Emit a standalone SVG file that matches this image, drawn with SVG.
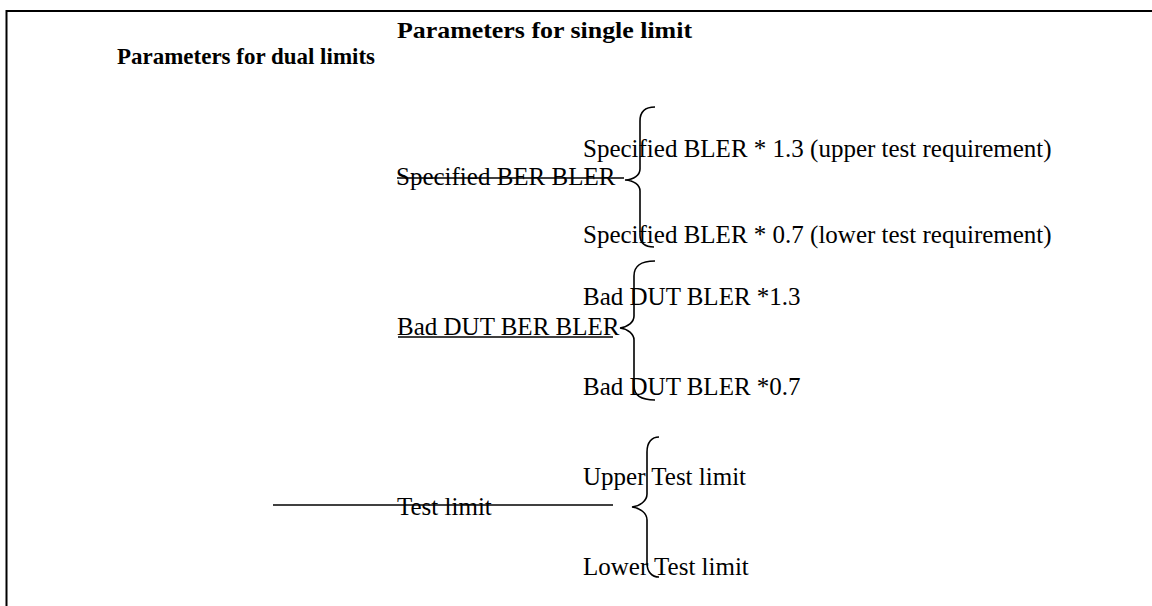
<svg xmlns="http://www.w3.org/2000/svg" width="1152" height="606" viewBox="0 0 1152 606">
<style>
.t{font-family:"Liberation Serif","Times New Roman",serif;font-size:25px;fill:#000}
.b{font-family:"Liberation Serif","Times New Roman",serif;font-size:24px;font-weight:bold;fill:#000}
.ln{stroke:#000;stroke-width:1.6;fill:none}
.br{stroke:#000;stroke-width:1.6;fill:none}
</style>
<rect width="1152" height="606" fill="#fff"/>
<path d="M6.5,606 V11 H1152" stroke="#000" stroke-width="2" fill="none"/>
<g id="title-single"><text class="b" x="397" y="38" textLength="295" lengthAdjust="spacingAndGlyphs">Parameters for single limit</text></g>
<g id="title-dual"><text class="b" x="117" y="64" textLength="258" lengthAdjust="spacingAndGlyphs">Parameters for dual limits</text></g>
<g id="spec-ber"><text class="t" x="396" y="185">Specified BER BLER</text></g>
<g id="spec-upper"><text class="t" x="583" y="157">Specified BLER * 1.3 (upper test requirement)</text></g>
<g id="spec-lower"><text class="t" x="583" y="243">Specified BLER * 0.7 (lower test requirement)</text></g>
<g id="bad-dut"><text class="t" x="397" y="335">Bad DUT BER BLER</text></g>
<g id="bad-upper"><text class="t" x="583" y="305">Bad DUT BLER *1.3</text></g>
<g id="bad-lower"><text class="t" x="583" y="395">Bad DUT BLER *0.7</text></g>
<g id="test-limit"><text class="t" x="397" y="515">Test limit</text></g>
<g id="upper-test"><text class="t" x="583" y="485">Upper Test limit</text></g>
<g id="lower-test"><text class="t" x="583" y="575">Lower Test limit</text></g>
<g id="connectors">
<line class="ln" x1="397" y1="178" x2="624" y2="178"/>
<line class="ln" x1="398" y1="337" x2="613" y2="337"/>
<line class="ln" x1="273" y1="505" x2="613" y2="505"/>
<path class="br" d="M655,107 C645,107 640,111 640,121 V169 C640,175 634,179.5 625,180 C634,180.5 640,185 640,191 V235 C640,243 645,247 654,247"/>
<path class="br" d="M655,261 C640,261 634,266 634,276 V316 C634,322 628,327 620,328 C628,329 634,334 634,340 V386 C634,395 640,400 655,400"/>
<path class="br" d="M659,437 C652,437 647,442 647,452 V494 C647,501 640,506 632,507 C640,508 647,513 647,520 V563 C647,572 652,577 659,577"/>
</g>
</svg>
